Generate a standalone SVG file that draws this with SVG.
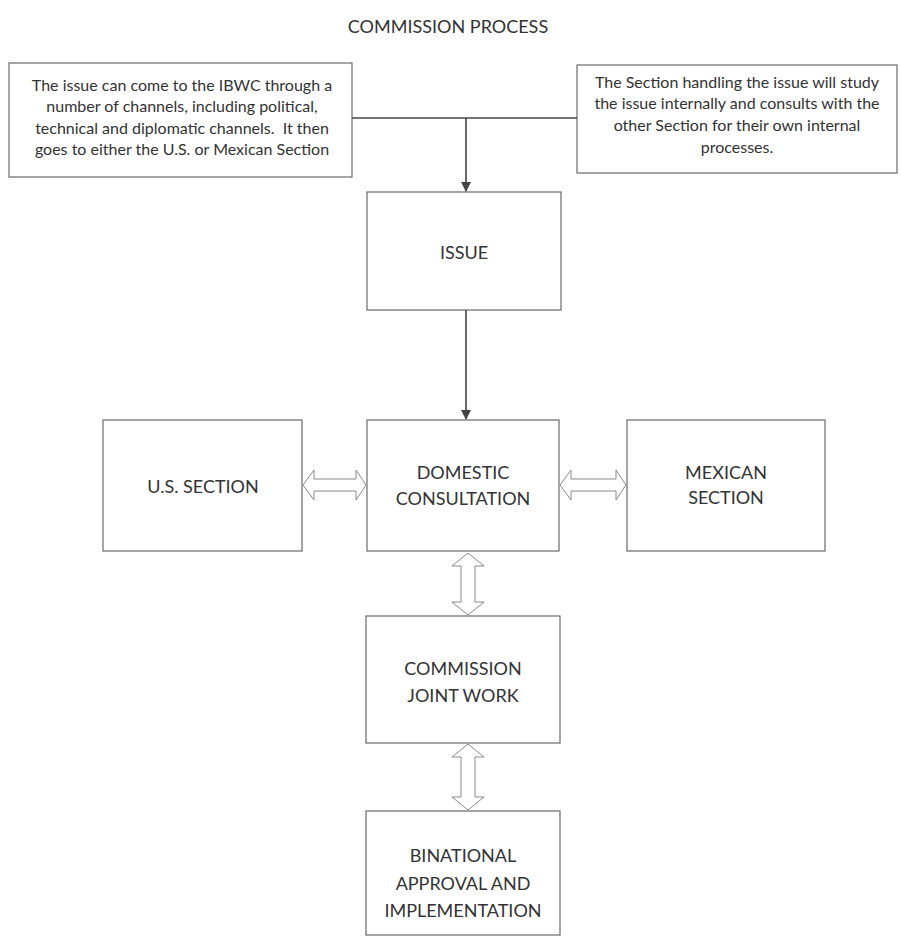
<svg xmlns="http://www.w3.org/2000/svg" width="901" height="939" viewBox="0 0 901 939">
<style>
.box{fill:#fff;stroke:#6a6a6a;stroke-width:1.2}
.t{font-family:Lato,"Liberation Sans",sans-serif;fill:#333;text-anchor:middle}
.note{font-size:16px}
.lab{font-size:18px}
.line{stroke:#444;stroke-width:1.6;fill:none}
.dbl{fill:#fff;stroke:#8a8a8a;stroke-width:1}
</style>
<defs>
<marker id="ah" markerWidth="10" markerHeight="10" refX="9" refY="5" orient="auto" markerUnits="userSpaceOnUse">
<path d="M0,0 L10,5 L0,10 Z" fill="#444"/>
</marker>
</defs>
<rect width="901" height="939" fill="#fff"/>
<text class="t" x="448" y="33" style="font-size:18px">COMMISSION PROCESS</text>

<g id="note-left">
<rect class="box" x="9" y="63" width="343" height="114"/>
<text class="t note" x="182" y="91">The issue can come to the IBWC through a</text>
<text class="t note" x="182" y="112">number of channels, including political,</text>
<text class="t note" x="182" y="134">technical and diplomatic channels.&#160; It then</text>
<text class="t note" x="182" y="155">goes to either the U.S. or Mexican Section</text>
</g>
<g id="note-right">
<rect class="box" x="577" y="65" width="320" height="108"/>
<text class="t note" x="737" y="88">The Section handling the issue will study</text>
<text class="t note" x="737" y="109">the issue internally and consults with the</text>
<text class="t note" x="737" y="131">other Section for their own internal</text>
<text class="t note" x="737" y="153">processes.</text>
</g>
<g id="issue">
<rect class="box" x="367" y="192" width="194" height="118"/>
<text class="t lab" x="464" y="259">ISSUE</text>
</g>
<g id="us-section">
<rect class="box" x="103" y="420" width="199" height="131"/>
<text class="t lab" x="203" y="493">U.S. SECTION</text>
</g>
<g id="domestic">
<rect class="box" x="367" y="420" width="192" height="131"/>
<text class="t lab" x="463" y="479">DOMESTIC</text>
<text class="t lab" x="463" y="505">CONSULTATION</text>
</g>
<g id="mexican-section">
<rect class="box" x="627" y="420" width="198" height="131"/>
<text class="t lab" x="726" y="479">MEXICAN</text>
<text class="t lab" x="726" y="504">SECTION</text>
</g>
<g id="commission">
<rect class="box" x="366" y="616" width="194" height="127"/>
<text class="t lab" x="463" y="675">COMMISSION</text>
<text class="t lab" x="463" y="702">JOINT WORK</text>
</g>
<g id="binational">
<rect class="box" x="366" y="811" width="194" height="124"/>
<text class="t lab" x="463" y="862">BINATIONAL</text>
<text class="t lab" x="463" y="890">APPROVAL AND</text>
<text class="t lab" x="463" y="917">IMPLEMENTATION</text>
</g>
<g id="connectors">
<path class="line" d="M352,118 L577,118"/>
<path class="line" d="M466,118 L466,191" marker-end="url(#ah)"/>
<path class="line" d="M466,310 L466,419" marker-end="url(#ah)"/>
<path class="dbl" d="M303,485 L314,470 L314,479 L356,479 L356,470 L366,485 L356,500 L356,491 L314,491 L314,500 Z"/>
<path class="dbl" d="M560,485 L571,470 L571,479 L616,479 L616,470 L626,485 L616,500 L616,491 L571,491 L571,500 Z"/>
<path class="dbl" d="M468,553 L484,566 L475,566 L475,602 L484,602 L468,615 L452,602 L461,602 L461,566 L452,566 Z"/>
<path class="dbl" d="M468,744 L484,757 L475,757 L475,797 L484,797 L468,810 L452,797 L461,797 L461,757 L452,757 Z"/>
</g>
</svg>
